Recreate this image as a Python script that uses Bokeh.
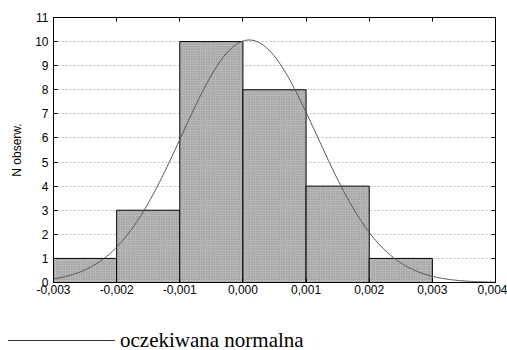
from bokeh.plotting import figure
from bokeh.layouts import column
from bokeh.models import (FixedTicker, CustomJSTickFormatter, LinearAxis, Range1d,
                          ColumnDataSource, Div)
from bokeh.embed import file_html
from bokeh.resources import INLINE
import numpy as np

# data
bin_left = [-0.003, -0.002, -0.001, 0.000, 0.001, 0.002]
bin_right = [-0.002, -0.001, 0.000, 0.001, 0.002, 0.003]
counts = [1, 3, 10, 8, 4, 1]
x_ticks = [-0.003, -0.002, -0.001, 0.0, 0.001, 0.002, 0.003, 0.004]
y_ticks = list(range(0, 12))
legend_label = "oczekiwana normalna"
# fitted normal curve parameters (expected normal)
n_obs = 27
bin_width = 0.001
mu = 0.0001
sigma = 0.00107

p = figure(width=507, height=300, output_backend="svg", toolbar_location=None,
           x_range=Range1d(-0.003, 0.004), y_range=Range1d(0, 11),
           min_border_left=53, min_border_top=17, min_border_right=12, min_border_bottom=18)
p.outline_line_color = "black"
p.outline_line_width = 1
p.background_fill_color = "white"
p.border_fill_color = "white"

src = ColumnDataSource(dict(left=bin_left, right=bin_right, top=counts, bottom=[0]*len(counts)))
p.quad(left="left", right="right", top="top", bottom="bottom", source=src,
       fill_color="#c4c4c4", line_color="black", line_width=1,
       hatch_pattern="diagonal_cross", hatch_scale=2.5, hatch_color="#8a8a8a", hatch_weight=0.6)

xc = np.linspace(-0.003, 0.004, 300)
yc = n_obs * bin_width / (sigma * np.sqrt(2 * np.pi)) * np.exp(-0.5 * ((xc - mu) / sigma) ** 2)
curve_src = ColumnDataSource(dict(x=xc, y=yc))
curve = p.line("x", "y", source=curve_src, line_color="#555555", line_width=1)

fmt = CustomJSTickFormatter(code="""
    if (Math.abs(tick) < 1e-9) return '0,000';
    return tick.toFixed(3).replace('.', ',');
""")

xa = p.xaxis[0]
xa.ticker = FixedTicker(ticks=x_ticks)
xa.formatter = fmt
ya = p.yaxis[0]
ya.ticker = FixedTicker(ticks=y_ticks)
ya.axis_label = "N obserw."
for ax in (xa, ya):
    ax.major_tick_in = 4
    ax.major_tick_out = 0
    ax.minor_tick_line_color = None
    ax.axis_line_color = "black"
    ax.major_label_text_font = "Liberation Sans"
    ax.major_label_text_font_size = "12px"
    ax.major_label_text_color = "black"
    ax.major_label_standoff = 2
ya.major_label_standoff = 5
ya.axis_label_text_font = "Liberation Sans"
ya.axis_label_text_font_size = "12px"
ya.axis_label_text_font_style = "normal"
ya.axis_label_text_color = "black"
ya.axis_label_standoff = 8

top_ax = LinearAxis(ticker=FixedTicker(ticks=x_ticks), major_label_text_alpha=0,
                    major_tick_in=4, major_tick_out=0, minor_tick_line_color=None)
right_ax = LinearAxis(ticker=FixedTicker(ticks=y_ticks), major_label_text_alpha=0,
                      major_tick_in=4, major_tick_out=0, minor_tick_line_color=None)
p.add_layout(top_ax, "above")
p.add_layout(right_ax, "right")

p.xgrid.grid_line_color = None
p.ygrid.ticker = FixedTicker(ticks=y_ticks)
p.ygrid.grid_line_color = "#bdbdbd"
p.ygrid.grid_line_dash = "2 2"
p.ygrid.grid_line_width = 1

# legend below the chart
legend_html = (
    '<div style="display:flex;align-items:center;height:24px;margin-top:28px;'
    'font-family:\'Liberation Serif\';font-size:21px;color:black;white-space:nowrap;">'
    '<span style="display:inline-block;width:107px;height:0;border-top:1px solid #333333;'
    'margin-left:8px;margin-right:5px;"></span>'
    '<span>' + legend_label + '</span></div>'
)
legend_div = Div(text=legend_html, width=507, height=50, margin=0)

layout = column(p, legend_div, spacing=0)
open("out.html", "w").write(file_html(layout, INLINE))
